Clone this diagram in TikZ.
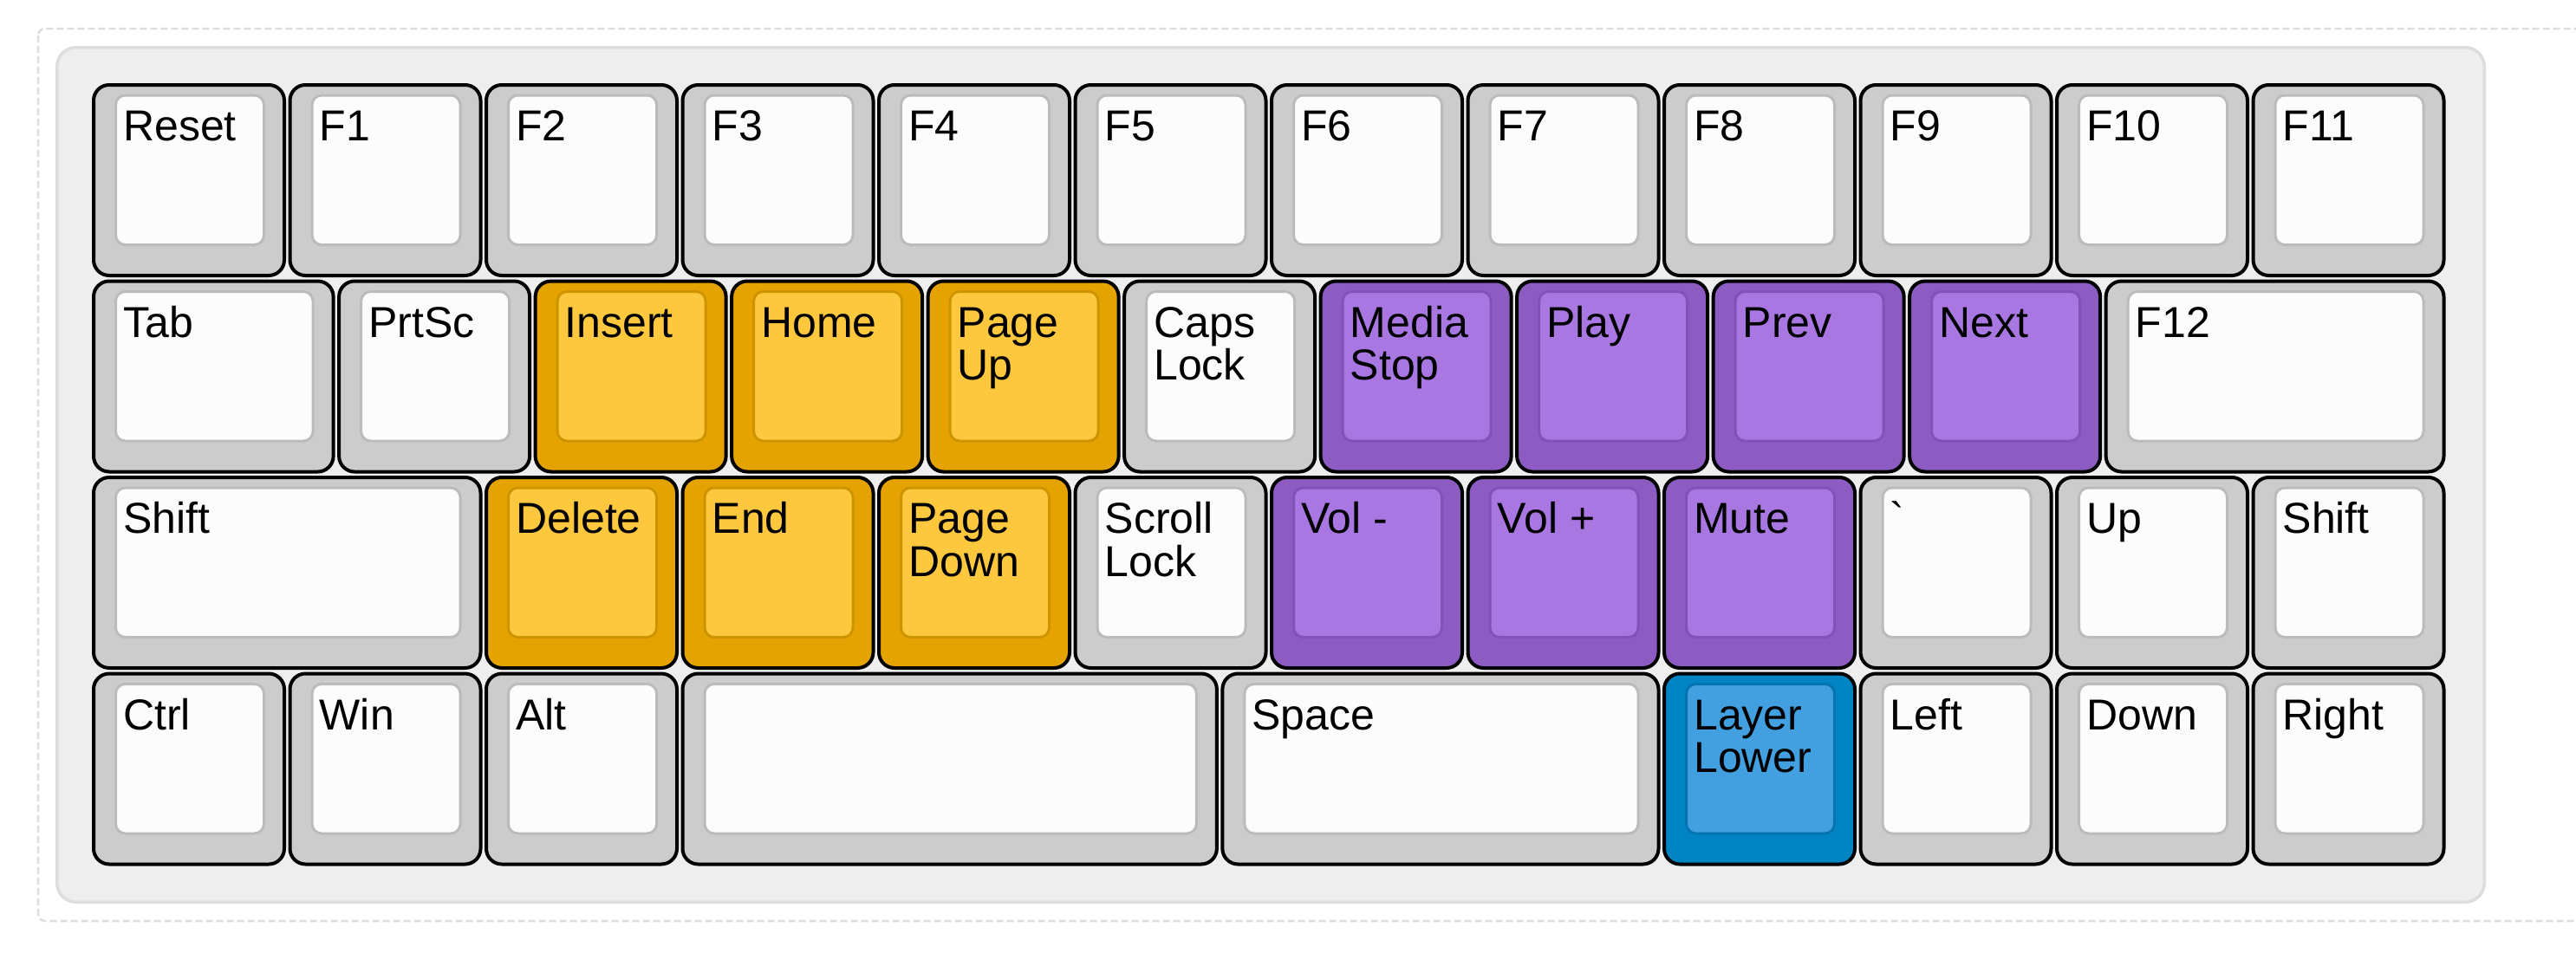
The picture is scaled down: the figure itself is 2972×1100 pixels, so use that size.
\documentclass[tikz,border=0pt]{standalone}
\usepackage{fontspec}
\setmainfont{Liberation Sans}
\definecolor{kgBase}{HTML}{CCCCCC}
\definecolor{kgTop}{HTML}{FCFCFC}
\definecolor{kgEdge}{HTML}{BBBBBB}
\definecolor{koBase}{HTML}{E4A300}
\definecolor{koTop}{HTML}{FEC83E}
\definecolor{koEdge}{HTML}{CE9400}
\definecolor{kpBase}{HTML}{8C5CC2}
\definecolor{kpTop}{HTML}{A977E2}
\definecolor{kpEdge}{HTML}{8152B8}
\definecolor{kbBase}{HTML}{0084C4}
\definecolor{kbTop}{HTML}{42A0E0}
\definecolor{kbEdge}{HTML}{0075B0}
\definecolor{frameGray}{HTML}{DDDDDD}
\definecolor{boardFill}{HTML}{EEEEEE}
\newcommand\twol[2]{\vtop{\hbox{#1}\hbox{#2}}}
% #1 name, #2 x (units), #3 row, #4 width (units), #5 colour prefix, #6 label
\newcommand\kbkey[6]{%
  \pgfmathsetmacro\kL{106+#2*226.5}%
  \pgfmathsetmacro\kT{96+#3*226.5}%
  \pgfmathsetmacro\kR{\kL+#4*226.5-2.5}%
  \pgfmathsetmacro\kB{\kT+224}%
  \path[keyouter, fill=#5Base] (\kL+2,\kT+2) rectangle (\kR-2,\kB-2);
  \path[keyinner, draw=#5Edge, fill=#5Top] (\kL+27.5,\kT+14) rectangle (\kR-25.5,\kB-37.5);
  \node[keylabel] (#1) at (\kL+36,\kT+66.5) {#6};
}
\begin{document}
\begin{tikzpicture}[x=1pt,y=-1pt,
  keyouter/.style={draw=black, line width=4pt, rounded corners=18pt},
  keyinner/.style={line width=3pt, rounded corners=11pt},
  keylabel/.style={inner sep=0pt, anchor=base west, text=black,
    font=\fontsize{50}{49.5}\selectfont}]
\useasboundingbox (0,0) rectangle (2972,1100);
\clip (0,0) rectangle (2972,1100);
\fill[white] (0,0) rectangle (2972,1100);
% outer dashed frame (right side lies outside the picture)
\draw[frameGray, line width=2.5pt, dash pattern=on 8pt off 4pt, rounded corners=8pt]
  (44,33) rectangle (3100,1063);
% keyboard background
\draw[frameGray, fill=boardFill, line width=3.5pt, rounded corners=22pt]
  (65.75,54.75) rectangle (2866.25,1041.25);
% row 0
\kbkey{reset}{0}{0}{1}{kg}{Reset}
\kbkey{f1}{1}{0}{1}{kg}{F1}
\kbkey{f2}{2}{0}{1}{kg}{F2}
\kbkey{f3}{3}{0}{1}{kg}{F3}
\kbkey{f4}{4}{0}{1}{kg}{F4}
\kbkey{f5}{5}{0}{1}{kg}{F5}
\kbkey{f6}{6}{0}{1}{kg}{F6}
\kbkey{f7}{7}{0}{1}{kg}{F7}
\kbkey{f8}{8}{0}{1}{kg}{F8}
\kbkey{f9}{9}{0}{1}{kg}{F9}
\kbkey{f10}{10}{0}{1}{kg}{F10}
\kbkey{f11}{11}{0}{1}{kg}{F11}
% row 1
\kbkey{tab}{0}{1}{1.25}{kg}{Tab}
\kbkey{prtsc}{1.25}{1}{1}{kg}{PrtSc}
\kbkey{insert}{2.25}{1}{1}{ko}{Insert}
\kbkey{home}{3.25}{1}{1}{ko}{Home}
\kbkey{pgup}{4.25}{1}{1}{ko}{\twol{Page}{Up}}
\kbkey{caps}{5.25}{1}{1}{kg}{\twol{Caps}{Lock}}
\kbkey{mstop}{6.25}{1}{1}{kp}{\twol{Media}{Stop}}
\kbkey{play}{7.25}{1}{1}{kp}{Play}
\kbkey{prev}{8.25}{1}{1}{kp}{Prev}
\kbkey{next}{9.25}{1}{1}{kp}{Next}
\kbkey{f12}{10.25}{1}{1.75}{kg}{F12}
% row 2
\kbkey{lshift}{0}{2}{2}{kg}{Shift}
\kbkey{delete}{2}{2}{1}{ko}{Delete}
\kbkey{end}{3}{2}{1}{ko}{End}
\kbkey{pgdn}{4}{2}{1}{ko}{\twol{Page}{Down}}
\kbkey{scroll}{5}{2}{1}{kg}{\twol{Scroll}{Lock}}
\kbkey{voldn}{6}{2}{1}{kp}{Vol -}
\kbkey{volup}{7}{2}{1}{kp}{Vol +}
\kbkey{mute}{8}{2}{1}{kp}{Mute}
\kbkey{grave}{9}{2}{1}{kg}{\textasciigrave}
\kbkey{up}{10}{2}{1}{kg}{Up}
\kbkey{rshift}{11}{2}{1}{kg}{Shift}
% row 3
\kbkey{ctrl}{0}{3}{1}{kg}{Ctrl}
\kbkey{win}{1}{3}{1}{kg}{Win}
\kbkey{alt}{2}{3}{1}{kg}{Alt}
\kbkey{blank}{3}{3}{2.75}{kg}{}
\kbkey{space}{5.75}{3}{2.25}{kg}{Space}
\kbkey{lower}{8}{3}{1}{kb}{\twol{Layer}{Lower}}
\kbkey{left}{9}{3}{1}{kg}{Left}
\kbkey{down}{10}{3}{1}{kg}{Down}
\kbkey{right}{11}{3}{1}{kg}{Right}
\end{tikzpicture}
\end{document}
